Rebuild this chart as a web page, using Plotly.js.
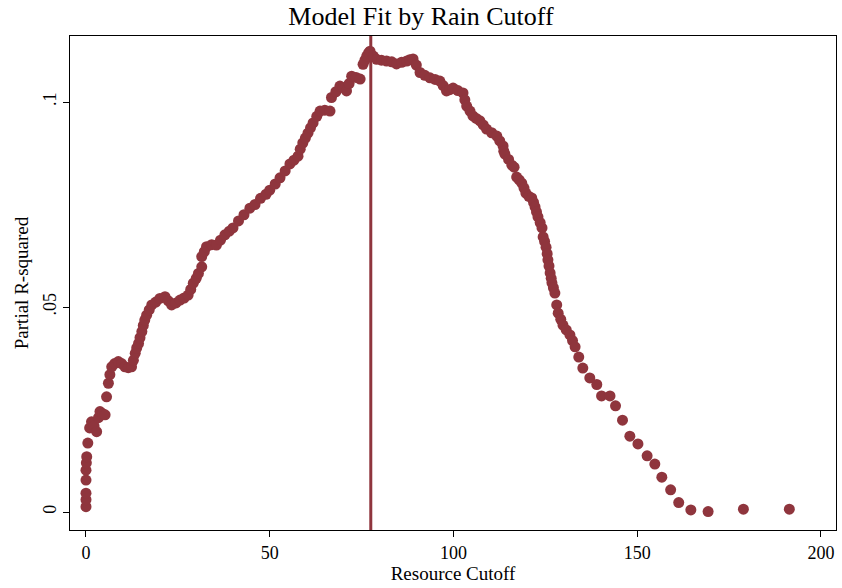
<!DOCTYPE html>
<html>
<head>
<meta charset="utf-8">
<script src="https://cdn.plot.ly/plotly-3.0.1.min.js"></script>
<style>body{margin:0;background:#fff}</style>
</head>
<body>
<div id="chart" style="width:842px;height:588px"></div>
<script>
// resource cutoff values and partial R-squared
const cutoff = [0, 0, 0, 0, 0, 0.1, 0.2, 0.5, 1.0, 1.5, 2.2, 2.9, 3.4, 3.8, 4.5, 5.2, 5.6, 6.1, 6.5, 7.0, 7.8, 8.8, 9.7, 10.6, 11.5, 12.4, 12.9, 13.4, 13.8, 14.3, 14.7, 15.2, 15.6, 16.0, 16.5, 17.2, 17.9, 19.0, 20.1, 21.5, 22.4, 23.3, 24.5, 25.6, 26.7, 27.8, 28.5, 29.2, 30.0, 30.6, 31.5, 31.5, 32.2, 32.8, 34.2, 35.5, 36.6, 37.8, 39.0, 40.0, 41.5, 43.0, 44.6, 46.0, 47.5, 49.0, 50.0, 51.5, 52.8, 54.2, 55.5, 56.6, 57.7, 58.3, 59.0, 59.7, 60.4, 61.1, 61.8, 62.8, 63.7, 65.0, 66.4, 66.8, 68.0, 69.1, 70.0, 70.9, 71.6, 72.3, 73.5, 74.6, 75.4, 75.9, 76.4, 76.9, 77.3, 78.2, 79.1, 80.4, 81.8, 83.2, 84.5, 85.9, 87.3, 88.1, 89.0, 89.9, 90.9, 92.2, 93.6, 95.0, 96.3, 97.2, 98.1, 99.0, 99.9, 101.2, 102.6, 103.1, 103.6, 104.5, 105.3, 106.2, 107.2, 108.1, 109.0, 110.4, 111.8, 112.6, 113.5, 113.7, 114.0, 115.0, 115.9, 116.5, 117.2, 117.9, 118.6, 119.2, 119.7, 120.5, 121.3, 121.8, 122.2, 122.6, 123.0, 123.6, 124.1, 124.4, 124.8, 125.2, 125.5, 125.7, 126.0, 126.3, 126.6, 126.8, 127.2, 127.6, 128.1, 128.5, 129.2, 129.8, 130.7, 131.7, 132.4, 133.1, 134.1, 135.2, 137.1, 139.0, 140.3, 142.6, 144.1, 146.0, 148.0, 150.2, 152.7, 154.8, 156.7, 159.1, 161.3, 164.6, 169.3, 178.9, 191.4];
const rsq = [0.0013, 0.0030, 0.0046, 0.0078, 0.0102, 0.0120, 0.0135, 0.0168, 0.0205, 0.0220, 0.0210, 0.0196, 0.0230, 0.0245, 0.0240, 0.0237, 0.0281, 0.0314, 0.0335, 0.0354, 0.0362, 0.0367, 0.0362, 0.0354, 0.0352, 0.0354, 0.0370, 0.0387, 0.0400, 0.0411, 0.0425, 0.0440, 0.0455, 0.0468, 0.0480, 0.0493, 0.0505, 0.0512, 0.0521, 0.0525, 0.0515, 0.0505, 0.0510, 0.0517, 0.0522, 0.0529, 0.0543, 0.0558, 0.0570, 0.0582, 0.0598, 0.0623, 0.0635, 0.0647, 0.0652, 0.0651, 0.0663, 0.0676, 0.0685, 0.0693, 0.0710, 0.0725, 0.0741, 0.0750, 0.0765, 0.0775, 0.0785, 0.0800, 0.0815, 0.0832, 0.0849, 0.0858, 0.0868, 0.0885, 0.0900, 0.0912, 0.0924, 0.0937, 0.0949, 0.0965, 0.0978, 0.0980, 0.0978, 0.1011, 0.1025, 0.1039, 0.1035, 0.1027, 0.1045, 0.1063, 0.1060, 0.1056, 0.1092, 0.1102, 0.1112, 0.1120, 0.1124, 0.1112, 0.1104, 0.1102, 0.1100, 0.1098, 0.1093, 0.1097, 0.1100, 0.1103, 0.1105, 0.1090, 0.1072, 0.1065, 0.1059, 0.1055, 0.1051, 0.1040, 0.1027, 0.1030, 0.1034, 0.1028, 0.1022, 0.1005, 0.0990, 0.0978, 0.0966, 0.0960, 0.0954, 0.0944, 0.0934, 0.0925, 0.0917, 0.0905, 0.0893, 0.0880, 0.0873, 0.0860, 0.0846, 0.0841, 0.0817, 0.0810, 0.0802, 0.0790, 0.0778, 0.0770, 0.0766, 0.0755, 0.0744, 0.0732, 0.0720, 0.0706, 0.0693, 0.0671, 0.0660, 0.0646, 0.0630, 0.0615, 0.0600, 0.0583, 0.0570, 0.0559, 0.0547, 0.0534, 0.0505, 0.0485, 0.0470, 0.0456, 0.0444, 0.0432, 0.0418, 0.0403, 0.0378, 0.0351, 0.0327, 0.0311, 0.0283, 0.0283, 0.0259, 0.0224, 0.0185, 0.0166, 0.0137, 0.0117, 0.0085, 0.0054, 0.0023, 0.0005, 0.0001, 0.0007, 0.0007];
const bestCutoff = 77.5;
const xTicks = [0, 50, 100, 150, 200];
const yTicks = [0, 0.05, 0.1];
const yTickText = ['0', '.05', '.1'];

const maroon = '#8f353d';
const serif = 'Liberation Serif, Times New Roman, serif';

const trace = {
    x: cutoff,
    y: rsq,
    mode: 'markers',
    type: 'scatter',
    marker: { color: maroon, size: 11, line: { width: 0 } },
    hoverinfo: 'skip'
};

const layout = {
    width: 842,
    height: 588,
    margin: { l: 70, r: 6, t: 36, b: 58 },
    paper_bgcolor: '#fff',
    plot_bgcolor: '#fff',
    showlegend: false,
    font: { family: serif, color: '#000', size: 18 },
    title: { text: 'Model Fit by Rain Cutoff', font: { family: serif, size: 26 }, x: 0.5, xanchor: 'center', y: 0.988, yanchor: 'top' },
    xaxis: {
        range: [-4.35, 204.1],
        tickvals: xTicks,
        ticks: 'outside', ticklen: 6, tickcolor: '#000',
        showline: true, mirror: true, linecolor: '#000', linewidth: 1.2,
        showgrid: false, zeroline: false,
        tickfont: { size: 18 },
        title: { text: 'Resource Cutoff', font: { size: 19 }, standoff: 2 }
    },
    yaxis: {
        range: [-0.00439, 0.1161],
        tickvals: yTicks,
        ticktext: yTickText,
        tickangle: -90,
        ticks: 'outside', ticklen: 6, tickcolor: '#000',
        showline: true, mirror: true, linecolor: '#000', linewidth: 1.2,
        showgrid: false, zeroline: false,
        tickfont: { size: 18 },
        title: { text: 'Partial R-squared', font: { size: 19 }, standoff: 6 }
    },
    shapes: [{
        type: 'line', xref: 'x', yref: 'paper',
        x0: bestCutoff, x1: bestCutoff, y0: 0, y1: 1,
        line: { color: maroon, width: 3 }
    }]
};

Plotly.newPlot('chart', [trace], layout, { displayModeBar: false, staticPlot: true });
</script>
</body>
</html>
